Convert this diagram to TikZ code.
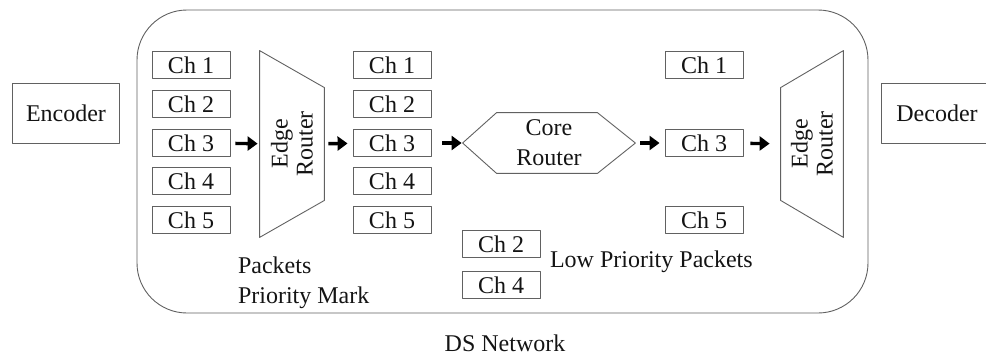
\documentclass[tikz,border=0pt]{standalone}
\usepackage{fontspec}
\setmainfont{Liberation Serif}
\usetikzlibrary{arrows.meta,calc,positioning}
\definecolor{NetInk}{gray}{0.08}
\definecolor{NetLine}{gray}{0.38}
\tikzset{
    net/diagram/.style={
        x=0.5pt, y=-0.5pt,
        font=\fontsize{12pt}{15pt}\selectfont,
        text=NetInk,
        line cap=round,
        line join=round
    },
    net/outline/.style={draw=NetLine, line width=0.45pt},
    net/chan/.style={
        net/outline, minimum width=39pt, minimum height=13.5pt, inner sep=0pt
    },
    net/endpoint/.style={net/outline, minimum height=30pt, inner sep=0pt},
    net/router/.style={
        draw=none, minimum width=32pt, minimum height=93pt, inner sep=0pt
    },
    net/routertext/.style={
        rotate=90, align=center, font=\fontsize{12pt}{12.5pt}\selectfont
    },
    net/core/.style={
        draw=none, minimum width=86pt, minimum height=30pt,
        align=center, inner sep=0pt
    },
    net/cloud/.style={
        net/outline, rounded corners=25pt,
        minimum width=365.5pt, minimum height=151.5pt
    },
    net/flow/.style={
        draw=black, line width=1.7pt, line cap=butt,
        -{Triangle[length=5pt, width=7pt]}
    }
}
\begin{document}
\begin{tikzpicture}[net/diagram]
    \useasboundingbox (0,0) rectangle (986,359);
    % DS network boundary and the two end systems.
    \node[net/cloud] (ds) at (502.5,161.5) {};
    \node (dslabel) at (505,343) {DS Network};
    \node[net/endpoint, minimum width=53.5pt] (enc) at (66,113) {Encoder};
    \node[net/endpoint, minimum width=56pt] (dec) at (937,113) {Decoder};
    % Channels entering the ingress edge router.
    \node[net/chan] (lch1) at (191,65) {Ch 1};
    \node[net/chan] (lch2) at (191,104) {Ch 2};
    \node[net/chan] (lch3) at (191,143) {Ch 3};
    \node[net/chan] (lch4) at (191,181) {Ch 4};
    \node[net/chan] (lch5) at (191,220) {Ch 5};
    % Ingress edge router: wide side faces the channels.
    \node[net/router] (er1) at (292,144) {};
    \draw[net/outline] (er1.north west) -- ($(er1.north east)+(0,37)$)
        -- ($(er1.south east)+(0,-37)$) -- (er1.south west) -- cycle;
    \node[net/routertext] at (er1) {Edge\\Router};
    \node[anchor=north west, align=left] (mark) at (231,250)
        {Packets\\Priority Mark};
    % Marked channels.
    \node[net/chan] (mch1) at (392,65) {Ch 1};
    \node[net/chan] (mch2) at (392,104) {Ch 2};
    \node[net/chan] (mch3) at (392,143) {Ch 3};
    \node[net/chan] (mch4) at (392,181) {Ch 4};
    \node[net/chan] (mch5) at (392,220) {Ch 5};
    % Core router as a flat hexagon.
    \node[net/core] (core) at (549,143) {Core\\Router};
    \draw[net/outline] (core.west) -- ($(core.north west)+(34,0)$)
        -- ($(core.north east)+(-38,0)$) -- (core.east)
        -- ($(core.south east)+(-38,0)$) -- ($(core.south west)+(34,0)$)
        -- cycle;
    % Channels dropped by the core.
    \node[net/chan] (lowch2) at (501,244) {Ch 2};
    \node[net/chan] (lowch4) at (501,285) {Ch 4};
    \node[anchor=west] (low) at (543,262) {Low Priority Packets};
    % Channels kept, and the egress edge router.
    \node[net/chan] (rch1) at (704,65) {Ch 1};
    \node[net/chan] (rch3) at (704,143) {Ch 3};
    \node[net/chan] (rch5) at (704,220) {Ch 5};
    \node[net/router, minimum width=31pt] (er2) at (812,144) {};
    \draw[net/outline] ($(er2.north west)+(0,37)$) -- (er2.north east)
        -- (er2.south east) -- ($(er2.south west)+(0,-37)$) -- cycle;
    \node[net/routertext] at (er2) {Edge\\Router};
    % Flow of channel 3 through the network.
    \draw[net/flow, shorten <=2.5pt, shorten >=1pt] (lch3) -- (er1);
    \draw[net/flow, shorten <=2pt, shorten >=2.5pt] (er1) -- (mch3);
    \draw[net/flow, shorten <=5.5pt, shorten >=0.5pt] (mch3) -- (core);
    \draw[net/flow, shorten <=2.5pt, shorten >=2.5pt] (core) -- (rch3);
    \draw[net/flow, shorten <=3.5pt, shorten >=5.5pt] (rch3) -- (er2);
\end{tikzpicture}
\end{document}
